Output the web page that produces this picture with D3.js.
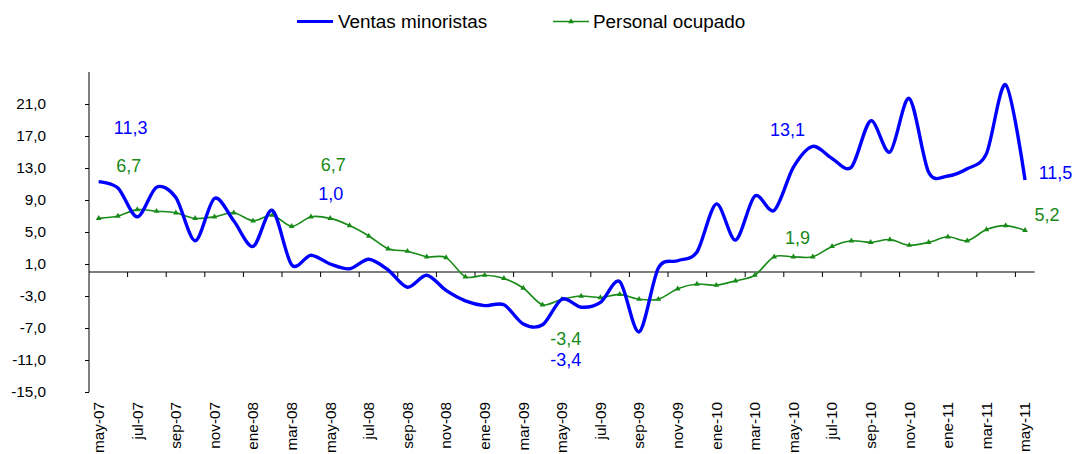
<!DOCTYPE html>
<html>
<head>
<meta charset="utf-8">
<script src="https://cdn.jsdelivr.net/npm/d3@7"></script>
<style>
  html, body { margin: 0; padding: 0; background: #fff; }
  svg { display: block; font-family: "Liberation Sans", Arial, sans-serif; }
</style>
</head>
<body>
<svg id="chart" width="1076" height="454"></svg>
<script>
// ---- data ----
const categories = [
  "may-07","jun-07","jul-07","ago-07","sep-07","oct-07","nov-07","dic-07",
  "ene-08","feb-08","mar-08","abr-08","may-08","jun-08","jul-08","ago-08","sep-08","oct-08","nov-08","dic-08",
  "ene-09","feb-09","mar-09","abr-09","may-09","jun-09","jul-09","ago-09","sep-09","oct-09","nov-09","dic-09",
  "ene-10","feb-10","mar-10","abr-10","may-10","jun-10","jul-10","ago-10","sep-10","oct-10","nov-10","dic-10",
  "ene-11","feb-11","mar-11","abr-11","may-11"
];
const ventasMinoristas = [
  11.3, 10.5, 6.9, 10.6, 9.3, 3.9, 9.2, 6.4,
  3.2, 7.7, 0.9, 2.1, 1.0, 0.4, 1.6, 0.25, -1.9, -0.4, -2.3, -3.6,
  -4.2, -4.1, -6.5, -6.6, -3.4, -4.4, -3.8, -1.2, -7.5, 0.5, 1.4, 2.5,
  8.5, 4.0, 9.5, 7.7, 13.1, 15.7, 14.2, 13.1, 18.9, 15.0, 21.7, 12.5,
  12.0, 12.9, 14.8, 23.4, 11.5
];
const personalOcupado = [
  6.7, 7.0, 7.8, 7.6, 7.4, 6.7, 6.9, 7.4,
  6.4, 7.1, 5.7, 6.9, 6.7, 5.8, 4.5, 2.9, 2.6, 1.9, 1.8, -0.6,
  -0.4, -0.8, -2.0, -4.1, -3.4, -3.0, -3.2, -2.8, -3.4, -3.4, -2.1, -1.5,
  -1.65, -1.1, -0.4, 1.9, 1.9, 1.9, 3.2, 3.9, 3.7, 4.05, 3.35, 3.7,
  4.4, 3.9, 5.3, 5.8, 5.2
];
const yTicks = [-15, -11, -7, -3, 1, 5, 9, 13, 17, 21];
const seriesNames = ["Ventas minoristas", "Personal ocupado"];
// value labels: [category, series, text]
const valueLabels = [
  ["may-07", "ventas", "11,3"], ["may-07", "personal", "6,7"],
  ["may-08", "personal", "6,7"], ["may-08", "ventas", "1,0"],
  ["may-09", "personal", "-3,4"], ["may-09", "ventas", "-3,4"],
  ["may-10", "ventas", "13,1"], ["may-10", "personal", "1,9"],
  ["may-11", "ventas", "11,5"], ["may-11", "personal", "5,2"]
];

(function () {
// ---- layout ----
const BLUE = "#0000ff", GREEN = "#178a17";
const svg = d3.select("#chart");
const mLeft = 89, mRight = 1034.7, mTop = 72, mBottom = 392;

const x = d3.scaleBand().domain(categories).range([mLeft, mRight]).padding(0);
const xc = c => x(c) + x.bandwidth() / 2;
const y = d3.scaleLinear().domain([-15, 25]).range([mBottom, mTop]);

// y axis
const yAxis = d3.axisLeft(y).tickValues(yTicks).tickSize(4)
  .tickFormat(d => d3.format(".1f")(d).replace(".", ",").replace("\u2212", "-"));
const gy = svg.append("g").attr("transform", `translate(${mLeft},0)`).call(yAxis);
gy.select(".domain").attr("stroke", "#000").attr("d", `M0,${y(25)}V${y(-15)}`);
gy.selectAll(".tick line").attr("stroke", "#000");
gy.selectAll(".tick text").attr("x", -43).attr("font-size", 15.3).attr("fill", "#000")
  .attr("font-family", "Liberation Sans, Arial, sans-serif");

// x axis (zero line) with ticks every 2 categories at boundaries
const gx = svg.append("g").attr("transform", `translate(0,${y(0)})`);
gx.append("line").attr("x1", mLeft).attr("x2", mRight).attr("y1", 0).attr("y2", 0)
  .attr("stroke", "#000").attr("stroke-width", 1);
gx.selectAll("line.tk").data(categories.filter((c, i) => i % 2 === 0 && i > 0))
  .enter().append("line").attr("class", "tk")
  .attr("x1", c => x(c)).attr("x2", c => x(c)).attr("y1", 0).attr("y2", 5)
  .attr("stroke", "#000");
// x labels at bottom
svg.append("g").selectAll("text").data(categories.filter((c, i) => i % 2 === 0))
  .enter().append("text")
  .attr("transform", c => `translate(${xc(c)},${mBottom + 10}) rotate(-90)`)
  .attr("text-anchor", "end").attr("dy", "0.35em")
  .attr("font-size", 15.3).attr("fill", "#000")
  .text(c => c);

// lines
const line = d3.line().x((d, i) => xc(categories[i])).y(d => y(d))
  .curve(d3.curveCardinal.tension(0.1));
svg.append("path").datum(personalOcupado).attr("d", line)
  .attr("fill", "none").attr("stroke", GREEN).attr("stroke-width", 1.6);
svg.append("g").selectAll("path").data(personalOcupado).enter().append("path")
  .attr("d", d3.symbol(d3.symbolTriangle, 14))
  .attr("transform", (d, i) => `translate(${xc(categories[i])},${y(d)})`)
  .attr("fill", GREEN);
svg.append("path").datum(ventasMinoristas).attr("d", line)
  .attr("fill", "none").attr("stroke", BLUE).attr("stroke-width", 3.4)
  .attr("stroke-linejoin", "round");

// value labels
const labelPos = {
  "may-07|ventas": [32, 18.1], "may-07|personal": [30, 13.3],
  "may-08|personal": [3, 13.4], "may-08|ventas": [0.5, 9.8],
  "may-09|personal": [4, -8.3], "may-09|ventas": [4, -10.95],
  "may-10|ventas": [-6, 17.8], "may-10|personal": [4, 4.3],
  "may-11|ventas": [30.5, 12.4], "may-11|personal": [22, 7.2]
};
svg.append("g").selectAll("text").data(valueLabels).enter().append("text")
  .attr("x", d => xc(d[0]) + labelPos[d[0] + "|" + d[1]][0])
  .attr("y", d => y(labelPos[d[0] + "|" + d[1]][1]))
  .attr("text-anchor", "middle").attr("dy", "0.36em")
  .attr("font-size", 18)
  .attr("fill", d => d[1] === "ventas" ? BLUE : GREEN)
  .text(d => d[2]);

// legend
const lg = svg.append("g");
lg.append("line").attr("x1", 297).attr("x2", 333).attr("y1", 21.5).attr("y2", 21.5)
  .attr("stroke", BLUE).attr("stroke-width", 3);
lg.append("text").attr("x", 338).attr("y", 21.5).attr("dy", "0.36em")
  .attr("font-size", 18.9).attr("fill", "#000").text(seriesNames[0]);
lg.append("line").attr("x1", 553).attr("x2", 589).attr("y1", 21.5).attr("y2", 21.5)
  .attr("stroke", GREEN).attr("stroke-width", 1.6);
lg.append("path").attr("d", d3.symbol(d3.symbolTriangle, 14))
  .attr("transform", "translate(571,21.5)").attr("fill", GREEN);
lg.append("text").attr("x", 593).attr("y", 21.5).attr("dy", "0.36em")
  .attr("font-size", 18.9).attr("fill", "#000").text(seriesNames[1]);
})();
</script>
</body>
</html>
